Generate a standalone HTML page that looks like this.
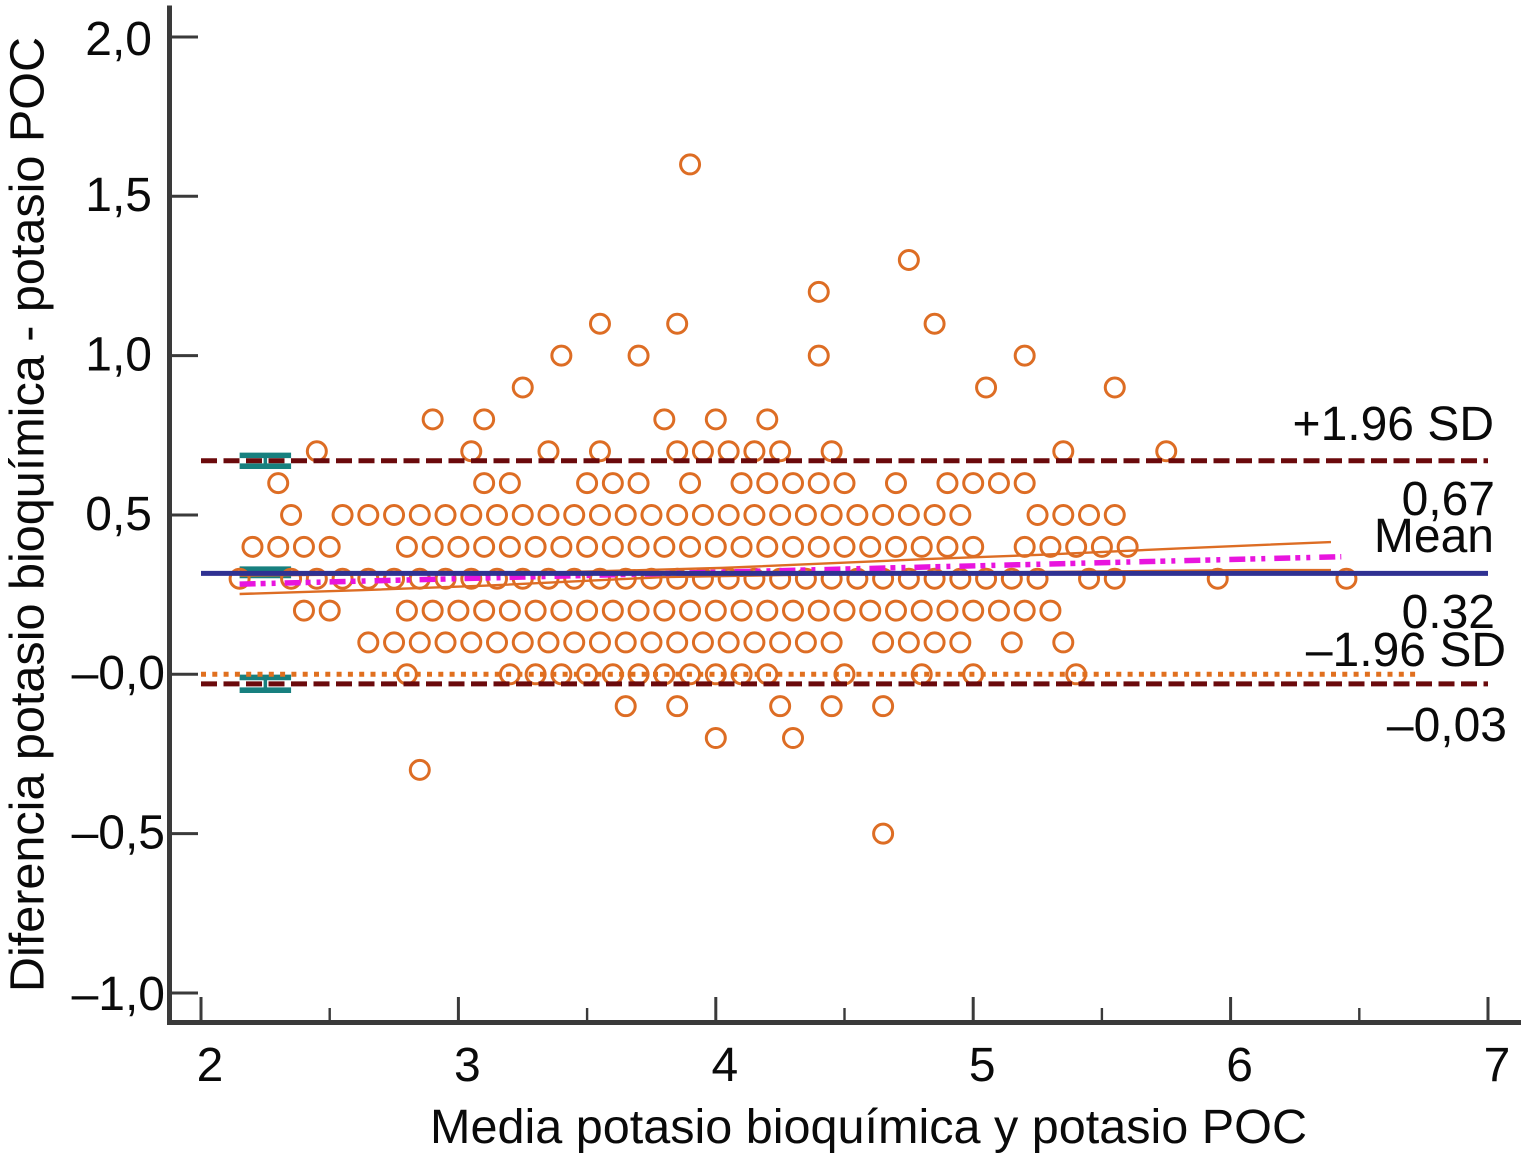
<!DOCTYPE html>
<html lang="es">
<head>
<meta charset="utf-8">
<title>Bland-Altman potasio</title>
<style>
html,body{margin:0;padding:0;background:#fff;width:1529px;height:1154px;overflow:hidden}
svg{display:block}
text{font-family:"Liberation Sans",Arial,sans-serif;font-size:48px;fill:#0a0a0a}
.axis-title{font-size:48.55px}
</style>
</head>
<body>
<svg id="chart" xmlns="http://www.w3.org/2000/svg" width="1529" height="1154" viewBox="0 0 1529 1154">
  <rect width="1529" height="1154" fill="#ffffff"/>
  <g id="series"></g>
  <g id="axes">
    <rect x="167" y="5.5" width="5" height="1019.5" fill="#3a3a3a"/>
    <rect x="167" y="1020" width="1354" height="5" fill="#3a3a3a"/>
  </g>
  <text class="axis-title" x="868.5" y="1143" text-anchor="middle">Media potasio bioquímica y potasio POC</text>
  <text class="axis-title" transform="translate(43.3,514.5) rotate(-90)" text-anchor="middle">Diferencia potasio bioquímica - potasio POC</text>
  <text x="1494" y="440" text-anchor="end">+1.96 SD</text>
  <text x="1495" y="515" text-anchor="end">0,67</text>
  <text x="1494" y="552" text-anchor="end">Mean</text>
  <text x="1495" y="628" text-anchor="end">0.32</text>
  <text x="1506" y="666" text-anchor="end">–1.96 SD</text>
  <text x="1507" y="741" text-anchor="end">–0,03</text>
</svg>
<script>
// ----- chart data -----
const yTickValues = [2, 1.5, 1, 0.5, 0, -0.5, -1];
const yTickLabels = ['2,0', '1,5', '1,0', '0,5', '–0,0', '–0,5', '–1,0'];
const xTickValues = [2, 3, 4, 5, 6, 7];
const xMinorTickValues = [2.5, 3.5, 4.5, 5.5, 6.5];

const meanDifference = 0.32;
const upperLimit = 0.67;
const lowerLimit = -0.03;
const zeroReference = 0;

const upperLimitCI = [0.653, 0.687];
const meanCI = [0.31, 0.33];
const lowerLimitCI = [-0.05, -0.01];

const regressionX = [2.15, 6.43];
const regressionY = [0.283, 0.369];
const ciUpperX = [2.15, 3.3, 4.03, 4.83, 5.26, 5.8, 6.39];
const ciUpperY = [0.31, 0.318, 0.334, 0.362, 0.375, 0.395, 0.415];
const ciLowerX = [2.15, 2.62, 3.1, 3.8, 4.6, 5.4, 6.07, 6.39];
const ciLowerY = [0.252, 0.264, 0.278, 0.305, 0.316, 0.322, 0.327, 0.327];

const diffLevels = [1.6, 1.3, 1.2, 1.1, 1.0, 0.9, 0.8, 0.7, 0.6, 0.5, 0.4, 0.3, 0.2, 0.1, 0, -0.1, -0.2, -0.3, -0.5];
const row160 = [3.9];
const row130 = [4.75];
const row120 = [4.4];
const row110 = [3.55, 3.85, 4.85];
const row100 = [3.4, 3.7, 4.4, 5.2];
const row090 = [3.25, 5.05, 5.55];
const row080 = [2.9, 3.1, 3.8, 4.0, 4.2];
const row070 = [2.45, 3.05, 3.35, 3.55, 3.85, 3.95, 4.05, 4.15, 4.25, 4.45, 5.35, 5.75];
const row060 = [2.3, 3.1, 3.2, 3.5, 3.6, 3.7, 3.9, 4.1, 4.2, 4.3, 4.4, 4.5, 4.7, 4.9, 5.0, 5.1, 5.2];
const row050 = [2.35, 2.55, 2.65, 2.75, 2.85, 2.95, 3.05, 3.15, 3.25, 3.35, 3.45, 3.55, 3.65, 3.75, 3.85, 3.95, 4.05, 4.15, 4.25, 4.35, 4.45, 4.55, 4.65, 4.75, 4.85, 4.95, 5.25, 5.35, 5.45, 5.55];
const row040 = [2.2, 2.3, 2.4, 2.5, 2.8, 2.9, 3.0, 3.1, 3.2, 3.3, 3.4, 3.5, 3.6, 3.7, 3.8, 3.9, 4.0, 4.1, 4.2, 4.3, 4.4, 4.5, 4.6, 4.7, 4.8, 4.9, 5.0, 5.2, 5.3, 5.4, 5.5, 5.6];
const row030 = [2.15, 2.35, 2.45, 2.55, 2.65, 2.75, 2.85, 2.95, 3.05, 3.15, 3.25, 3.35, 3.45, 3.55, 3.65, 3.75, 3.85, 3.95, 4.05, 4.15, 4.25, 4.35, 4.45, 4.55, 4.65, 4.75, 4.85, 4.95, 5.05, 5.15, 5.25, 5.45, 5.55, 5.95, 6.45];
const row020 = [2.4, 2.5, 2.8, 2.9, 3.0, 3.1, 3.2, 3.3, 3.4, 3.5, 3.6, 3.7, 3.8, 3.9, 4.0, 4.1, 4.2, 4.3, 4.4, 4.5, 4.6, 4.7, 4.8, 4.9, 5.0, 5.1, 5.2, 5.3];
const row010 = [2.65, 2.75, 2.85, 2.95, 3.05, 3.15, 3.25, 3.35, 3.45, 3.55, 3.65, 3.75, 3.85, 3.95, 4.05, 4.15, 4.25, 4.35, 4.45, 4.65, 4.75, 4.85, 4.95, 5.15, 5.35];
const row000 = [2.8, 3.2, 3.3, 3.4, 3.5, 3.6, 3.7, 3.8, 3.9, 4.0, 4.1, 4.2, 4.5, 4.8, 5.0, 5.4];
const rowM010 = [3.65, 3.85, 4.25, 4.45, 4.65];
const rowM020 = [4.0, 4.3];
const rowM030 = [2.85];
const rowM050 = [4.65];
const diffRows = [row160, row130, row120, row110, row100, row090, row080, row070, row060, row050, row040, row030, row020, row010, row000, rowM010, rowM020, rowM030, rowM050];

// ----- axis functions -----
function xScale(v) { return 201 + 257.4 * (v - 2); }
function yScale(v) { return 674.3 - 318.67 * v; }

const NS = 'http://www.w3.org/2000/svg';
const seriesGroup = document.getElementById('series');
const axesGroup = document.getElementById('axes');

function make(tag, parent, attrs) {
  const el = document.createElementNS(NS, tag);
  for (const k in attrs) el.setAttribute(k, attrs[k]);
  parent.appendChild(el);
  return el;
}

function polyPoints(xs, ys) {
  return xs.map(function (x, i) { return xScale(x) + ',' + yScale(ys[i]); }).join(' ');
}

// confidence-interval brackets
function drawBracket(ci, name) {
  const g = make('g', seriesGroup, {});
  
  
  const teal = '#17807f';
  const left = xScale(2.15);
  const right = xScale(2.35);
  const mid = xScale(2.25);
  make('line', g, { x1: left, x2: right, y1: yScale(ci[0]), y2: yScale(ci[0]), stroke: teal, 'stroke-width': 5.6 });
  make('line', g, { x1: left, x2: right, y1: yScale(ci[1]), y2: yScale(ci[1]), stroke: teal, 'stroke-width': 5.6 });
  make('line', g, { x1: mid, x2: mid, y1: yScale(ci[0]), y2: yScale(ci[1]), stroke: teal, 'stroke-width': 3.5 });
}
drawBracket(upperLimitCI, 'upper-limit-ci-bracket');
drawBracket(meanCI, 'mean-ci-bracket');
drawBracket(lowerLimitCI, 'lower-limit-ci-bracket');

// points
diffRows.forEach(function (row, r) {
  row.forEach(function (v) {
    const c = make('circle', seriesGroup, {
      cx: xScale(v), cy: yScale(diffLevels[r]), r: 9.5,
      fill: 'none', stroke: '#dd6d24', 'stroke-width': 3
    });
    
    
  });
});

// zero reference dotted line
const zeroLine = make('line', seriesGroup, {
  x1: xScale(2), x2: xScale(6.72), y1: yScale(zeroReference), y2: yScale(zeroReference),
  stroke: '#e0701f', 'stroke-width': 5, 'stroke-dasharray': '5 6.3'
});



// regression CI
const ciUpperLine = make('polyline', seriesGroup, {
  points: polyPoints(ciUpperX, ciUpperY), fill: 'none', stroke: '#dd6d24', 'stroke-width': 2.4
});


const ciLowerLine = make('polyline', seriesGroup, {
  points: polyPoints(ciLowerX, ciLowerY), fill: 'none', stroke: '#dd6d24', 'stroke-width': 2.4
});



// regression line
const regressionLine = make('polyline', seriesGroup, {
  points: polyPoints(regressionX, regressionY), fill: 'none', stroke: '#e815de', 'stroke-width': 5.5,
  'stroke-dasharray': '16 5 5 6 4 9'
});



// mean line
const meanLine = make('line', seriesGroup, {
  x1: xScale(2), x2: xScale(7), y1: yScale(meanDifference) + 1, y2: yScale(meanDifference) + 1,
  stroke: '#2f3192', 'stroke-width': 5
});



// limits of agreement
const upperLine = make('line', seriesGroup, {
  x1: xScale(2), x2: xScale(7), y1: yScale(upperLimit), y2: yScale(upperLimit),
  stroke: '#6b0a0c', 'stroke-width': 5, 'stroke-dasharray': '16 6.5'
});


const lowerLine = make('line', seriesGroup, {
  x1: xScale(2), x2: xScale(7), y1: yScale(lowerLimit), y2: yScale(lowerLimit),
  stroke: '#6b0a0c', 'stroke-width': 5, 'stroke-dasharray': '16 6.5'
});



// label placement quirks of the source figure
function yLabelRight(v) { return v < 0 || (v === 0) ? 165 : 152; }
function yLabelDy(v) { return v === 2 ? 18 : (v === -1 ? 17 : 14.8); }

// y axis ticks
yTickValues.forEach(function (v, i) {
  const t = make('line', axesGroup, { x1: 170, x2: 198, y1: yScale(v), y2: yScale(v), stroke: '#3a3a3a', 'stroke-width': 3 });
  
  
  const label = make('text', axesGroup, { x: yLabelRight(v), y: yScale(v) + yLabelDy(v), 'text-anchor': 'end' });
  label.textContent = yTickLabels[i];
  
  
});

// x axis ticks
xTickValues.forEach(function (v) {
  const t = make('line', axesGroup, { x1: xScale(v), x2: xScale(v), y1: 997, y2: 1022, stroke: '#3a3a3a', 'stroke-width': 3 });
  
  
  const label = make('text', axesGroup, { x: xScale(v) + 9, y: 1081, 'text-anchor': 'middle' });
  label.textContent = String(v);
  
  
});
xMinorTickValues.forEach(function (v) {
  const t = make('line', axesGroup, { x1: xScale(v), x2: xScale(v), y1: 1008, y2: 1022, stroke: '#3a3a3a', 'stroke-width': 2.4 });
  
  
});
</script>
</body>
</html>
